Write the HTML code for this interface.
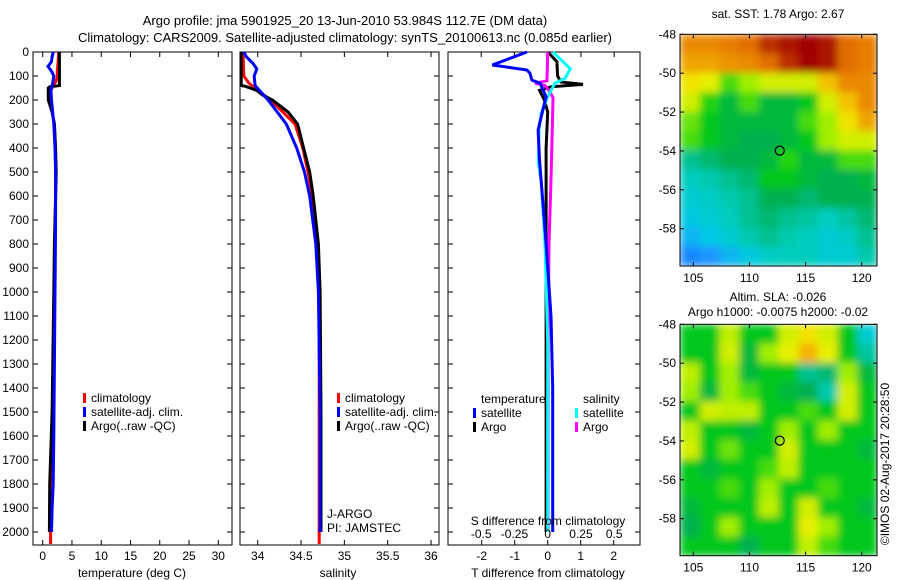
<!DOCTYPE html>
<html><head><meta charset="utf-8"><style>
body{margin:0;background:#fff;}
svg{display:block;font-family:"Liberation Sans",Arial,sans-serif;}
text{font-size:12px;fill:#000;}
</style></head><body>
<svg id="fig" width="900" height="580" viewBox="0 0 900 580">
<defs>
<filter id="blur" x="0" y="0" width="1" height="1"><feGaussianBlur stdDeviation="4" edgeMode="duplicate"/></filter>
<clipPath id="clip1"><rect x="680" y="34.3" width="197" height="231.7"/></clipPath>
<clipPath id="clip2"><rect x="680" y="324.3" width="197" height="231.4"/></clipPath>
</defs>
<text x="345" y="25" text-anchor="middle" style="font-size:13px">Argo profile: jma 5901925_20 13-Jun-2010 53.984S 112.7E (DM data)</text>
<text x="345" y="42" text-anchor="middle" style="font-size:13px">Climatology: CARS2009. Satellite-adjusted climatology: synTS_20100613.nc (0.085d earlier)</text>
<g id="g"></g>
</svg>
<script>
// ---- data ----
const depthTicks=[0,100,200,300,400,500,600,700,800,900,1000,1100,1200,1300,1400,1500,1600,1700,1800,1900,2000];
const tempTicks=[0,5,10,15,20,25,30];
const salTicks=[34,34.5,35,35.5,36];
const salTickLabels=["34","34.5","35","35.5","36"];
const tdTicks=[-2,-1,0,1,2];
const sdTicks=[-0.5,-0.25,0,0.25,0.5];
const sdTickLabels=["-0.5","-0.25","0","0.25","0.5"];
const lonTicks=[105,110,115,120];
const latTicks=[-48,-50,-52,-54,-56,-58];

const tClimDepth=[0,20,50,80,100,120,140,160,180,200,250,300,400,500,600,800,1000,1200,1500,1800,2000,2050];
const tClim=[2.7,2.7,2.6,2.5,2.5,2.3,1.8,1.4,1.2,1.2,1.6,2.0,2.15,2.2,2.2,2.1,2.0,1.9,1.7,1.5,1.35,1.35];
const tSatDepth=[0,20,40,60,80,100,130,160,200,250,300,400,500,700,1000,1300,1600,1800,1900,2000];
const tSat=[1.8,1.6,1.5,0.9,1.5,1.9,1.7,1.4,1.5,1.7,1.9,2.1,2.2,2.2,2.1,2.0,1.9,1.8,1.6,1.5];
const tArgoDepth=[0,140,145,150,200,250,300,400,500,600,800,1000,1500,1800,2000];
const tArgo=[2.85,2.85,1.2,0.95,0.95,1.6,2.0,2.2,2.3,2.2,2.0,1.9,1.6,1.2,1.15];

const sClimDepth=[0,100,130,160,200,300,400,500,600,800,1000,2000,2050];
const sClim=[33.83,33.84,33.9,34.0,34.15,34.43,34.52,34.58,34.63,34.69,34.71,34.71,34.71];
const sSatDepth=[0,20,50,70,100,140,160,200,300,400,500,600,800,1000,1500,2000];
const sSat=[33.84,33.87,33.95,33.99,33.96,33.97,34.02,34.12,34.33,34.45,34.54,34.6,34.67,34.7,34.72,34.72];
const sArgoDepth=[0,140,142,160,180,200,250,300,400,500,600,700,800,1000,1500,2000];
const sArgo=[33.81,33.81,33.85,33.99,34.06,34.17,34.35,34.46,34.53,34.6,34.64,34.67,34.7,34.72,34.73,34.73];

const dTSatDepth=[0,54,75,88,117,130,187,255,325,450,533,800,1100,1400,2000];
const dTSat=[-0.63,-1.68,-0.63,-0.54,-0.48,-0.23,-0.05,-0.17,-0.29,-0.25,-0.2,-0.05,0.1,0.15,0.15];
const dTArgoDepth=[0,40,100,125,135,145,160,200,250,400,600,1000,1500,2000];
const dTArgo=[0,0.28,0.3,0.4,1.07,0.1,-0.25,-0.1,0,-0.05,-0.05,-0.05,-0.05,-0.05];
const dSSatDepth=[0,70,110,130,187,255,325,465,533,800,1200,2000];
const dSSat=[0.04,0.17,0.13,0.055,0,-0.05,-0.065,-0.07,-0.05,-0.02,0,0];
const dSArgoDepth=[0,120,130,140,160,190,300,533,800,1200,2000];
const dSArgo=[0,-0.005,-0.095,-0.02,0.01,0.04,0.035,0.025,0.01,0.003,0.002];

const sstGrid=[
[0.8,0.8,0.82,0.85,0.92,0.95,0.97,0.95,0.85,0.82],
[0.75,0.75,0.78,0.8,0.85,0.92,0.97,0.95,0.85,0.82],
[0.65,0.62,0.5,0.55,0.6,0.6,0.6,0.7,0.8,0.8],
[0.6,0.48,0.42,0.5,0.42,0.42,0.45,0.6,0.7,0.8],
[0.52,0.45,0.42,0.42,0.42,0.42,0.5,0.55,0.65,0.75],
[0.5,0.45,0.42,0.4,0.4,0.42,0.45,0.55,0.6,0.6],
[0.36,0.38,0.4,0.4,0.42,0.48,0.42,0.42,0.5,0.5],
[0.33,0.34,0.36,0.38,0.45,0.45,0.42,0.4,0.4,0.42],
[0.3,0.32,0.34,0.36,0.4,0.4,0.38,0.4,0.4,0.4],
[0.28,0.3,0.33,0.36,0.38,0.36,0.35,0.33,0.35,0.38],
[0.24,0.27,0.3,0.34,0.36,0.34,0.33,0.3,0.32,0.36],
[0.18,0.2,0.24,0.28,0.32,0.33,0.33,0.3,0.3,0.34]];
const slaGrid=[
[0.45,0.45,0.58,0.45,0.45,0.6,0.65,0.6,0.45,0.3],
[0.45,0.45,0.6,0.42,0.55,0.62,0.72,0.62,0.45,0.35],
[0.58,0.45,0.55,0.42,0.45,0.45,0.36,0.38,0.55,0.42],
[0.55,0.42,0.55,0.5,0.45,0.42,0.4,0.34,0.6,0.45],
[0.45,0.6,0.58,0.58,0.45,0.45,0.5,0.45,0.6,0.45],
[0.58,0.45,0.45,0.42,0.45,0.55,0.45,0.55,0.45,0.45],
[0.6,0.45,0.52,0.45,0.45,0.6,0.45,0.45,0.45,0.42],
[0.45,0.42,0.45,0.45,0.5,0.58,0.45,0.45,0.45,0.45],
[0.45,0.45,0.5,0.45,0.55,0.45,0.45,0.5,0.45,0.45],
[0.42,0.45,0.45,0.45,0.58,0.45,0.6,0.45,0.45,0.42],
[0.4,0.45,0.55,0.45,0.45,0.45,0.62,0.55,0.45,0.45],
[0.45,0.45,0.45,0.4,0.45,0.45,0.58,0.5,0.45,0.45]];
const argoLon=112.7, argoLat=-53.984;

// ---- helpers ----
const NS="http://www.w3.org/2000/svg";
const G=document.getElementById('g');
function mk(tag,at,parent){const e=document.createElementNS(NS,tag);for(const k in at)e.setAttribute(k,at[k]);(parent||G).appendChild(e);return e;}
function txt(x,y,s,anchor,extra){const e=mk('text',Object.assign({x:x,y:y,'text-anchor':anchor||'start'},extra||{}));e.textContent=s;return e;}
const Y0=52,Y1=545;
const yD=d=>52+d*0.24;
const xT=t=>42.7+t*5.853;
const xS=s=>257.7+(s-34)*86.67;
const xDT=t=>547.7+t*33;
const xDS=s=>547.7+s*133;

function frame(x0,x1,name){
  const r=mk('rect',{x:x0,y:Y0,width:x1-x0,height:Y1-Y0,fill:'none',stroke:'#000','stroke-width':1});
  
  
  depthTicks.forEach(d=>{const y=yD(d);
    mk('line',{x1:x0,x2:x0+5,y1:y,y2:y,stroke:'#000'});
    mk('line',{x1:x1-5,x2:x1,y1:y,y2:y,stroke:'#000'});});
}
function line(xs,ds,fx,color,name){
  const pts=xs.map((v,i)=>fx(v).toFixed(1)+','+yD(ds[i]).toFixed(1)).join(' ');
  const p=mk('polyline',{points:pts,fill:'none',stroke:color,'stroke-width':3,'stroke-linejoin':'miter'});
  
  
}
function xticks(ticks,labels,fx,ylab,top){
  ticks.forEach((t,i)=>{const x=fx(t);
    mk('line',{x1:x,x2:x,y1:Y1-5,y2:Y1,stroke:'#000'});
    if(top) mk('line',{x1:x,x2:x,y1:Y0,y2:Y0+5,stroke:'#000'});
    const e=txt(x,ylab,labels[i],'middle');
    
    });
}
function legend(x,y,items){
  items.forEach((it,i)=>{
    mk('rect',{x:x,y:y+i*14-9,width:3,height:10,fill:it[0]});
    const e=txt(x+8,y+i*14,it[1]);
    
    });
}

depthTicks.forEach(d=>{const e=txt(29,yD(d)+4,String(d),'end');
  
  });

// panel 1 temperature
frame(33,232,'temperature-panel');
xticks(tempTicks,tempTicks.map(String),xT,560,true);
line(tClim,tClimDepth,xT,'#f00','temp-climatology-line');
line(tArgo,tArgoDepth,xT,'#000','temp-argo-line');
line(tSat,tSatDepth,xT,'#00f','temp-satellite-line');
let e=txt(132,577,'temperature (deg C)','middle');


legend(83,402,[['#f00','climatology'],['#00f','satellite-adj. clim.'],['#000','Argo(..raw -QC)']]);

// panel 2 salinity
frame(240,439,'salinity-panel');
xticks(salTicks,salTickLabels,xS,560,true);
line(sClim,sClimDepth,xS,'#f00','sal-climatology-line');
line(sArgo,sArgoDepth,xS,'#000','sal-argo-line');
line(sSat,sSatDepth,xS,'#00f','sal-satellite-line');
e=txt(338,577,'salinity','middle');


legend(337,402,[['#f00','climatology'],['#00f','satellite-adj. clim.'],['#000','Argo(..raw -QC)']]);
e=txt(327,518,'J-ARGO');
e=txt(327,532,'PI: JAMSTEC');

// panel 3 differences
frame(448,640,'difference-panel');
sdTicks.forEach(t=>{const x=xDS(t);mk('line',{x1:x,x2:x,y1:Y0,y2:Y0+5,stroke:'#000'});});
xticks(tdTicks,tdTicks.map(String),xDT,560,false);
line(dTArgo,dTArgoDepth,xDT,'#000','tdiff-argo-line');
line(dSArgo,dSArgoDepth,xDS,'#f0f','sdiff-argo-line');
line(dSSat,dSSatDepth,xDS,'#0ff','sdiff-satellite-line');
line(dTSat,dTSatDepth,xDT,'#00f','tdiff-satellite-line');
sdTicks.forEach((t,i)=>{const e=txt(xDS(t),538,sdTickLabels[i],'middle');
  
  });
e=txt(548,525,'S difference from climatology','middle');

e=txt(548,577,'T difference from climatology','middle');

e=txt(481,403,'temperature');
e=txt(583,403,'salinity');
legend(473,417,[['#00f','satellite'],['#000','Argo']]);
legend(575,417,[['#0ff','satellite'],['#f0f','Argo']]);

// maps
const stops=[[0.1,[0,80,255]],[0.2,[30,150,255]],[0.27,[0,200,230]],[0.33,[0,205,190]],[0.4,[0,176,80]],[0.46,[0,204,20]],[0.55,[160,238,0]],[0.63,[240,240,0]],[0.72,[245,180,0]],[0.85,[225,110,0]],[0.97,[160,0,0]]];
function cmap(v){
  if(v<=stops[0][0])return 'rgb('+stops[0][1]+')';
  for(let i=1;i<stops.length;i++){if(v<=stops[i][0]){const a=stops[i-1],b=stops[i],f=(v-a[0])/(b[0]-a[0]);
    return 'rgb('+a[1].map((c,k)=>Math.round(c+(b[1][k]-c)*f)).join(',')+')';}}
  return 'rgb('+stops[stops.length-1][1]+')';
}
function map(grid,top,bottom,name,clip){
  const L=680,R=877;
  const xL=lon=>693.3+(lon-105)*11.227;
  const yL=lat=>top+(-48-lat)*19.44;
  const outer=mk('g',{'clip-path':'url(#'+clip+')'});
  const g=mk('g',{filter:'url(#blur)'},outer);
  
  
  const rows=grid.length,cols=grid[0].length,cw=(R-L)/cols,ch=(bottom-top)/rows;
  grid.forEach((row,r)=>row.forEach((v,c)=>{
    const cell=mk('rect',{x:(L+c*cw).toFixed(2),y:(top+r*ch).toFixed(2),width:(cw+0.6).toFixed(2),height:(ch+0.6).toFixed(2),fill:cmap(v)},g);
    
    }));
  mk('rect',{x:L,y:top,width:R-L,height:bottom-top,fill:'none',stroke:'#000'});
  lonTicks.forEach(l=>{const x=xL(l);
    mk('line',{x1:x,x2:x,y1:bottom-4,y2:bottom,stroke:'#000'});
    mk('line',{x1:x,x2:x,y1:top,y2:top+4,stroke:'#000'});
    const t=txt(x,bottom+16,String(l),'middle');
    });
  latTicks.forEach(l=>{const y=yL(l);
    mk('line',{x1:L,x2:L+4,y1:y,y2:y,stroke:'#000'});
    mk('line',{x1:R-4,x2:R,y1:y,y2:y,stroke:'#000'});
    const t=txt(676,y+4,String(l),'end');
    });
  const c=mk('circle',{cx:xL(argoLon),cy:yL(argoLat),r:4.5,fill:'none',stroke:'#000','stroke-width':1.2});
  
  
}
map(sstGrid,34.3,266,'sst-map','clip1');
map(slaGrid,324.3,555.7,'sla-map','clip2');
e=txt(778,18,'sat. SST: 1.78 Argo: 2.67','middle');
e=txt(778,301,'Altim. SLA: -0.026','middle');
e=txt(778,316,'Argo h1000: -0.0075 h2000: -0.02','middle');
e=txt(0,0,'©IMOS 02-Aug-2017 20:28:50','middle',{transform:'translate(889,464) rotate(-90)'});

</script>
</body></html>
